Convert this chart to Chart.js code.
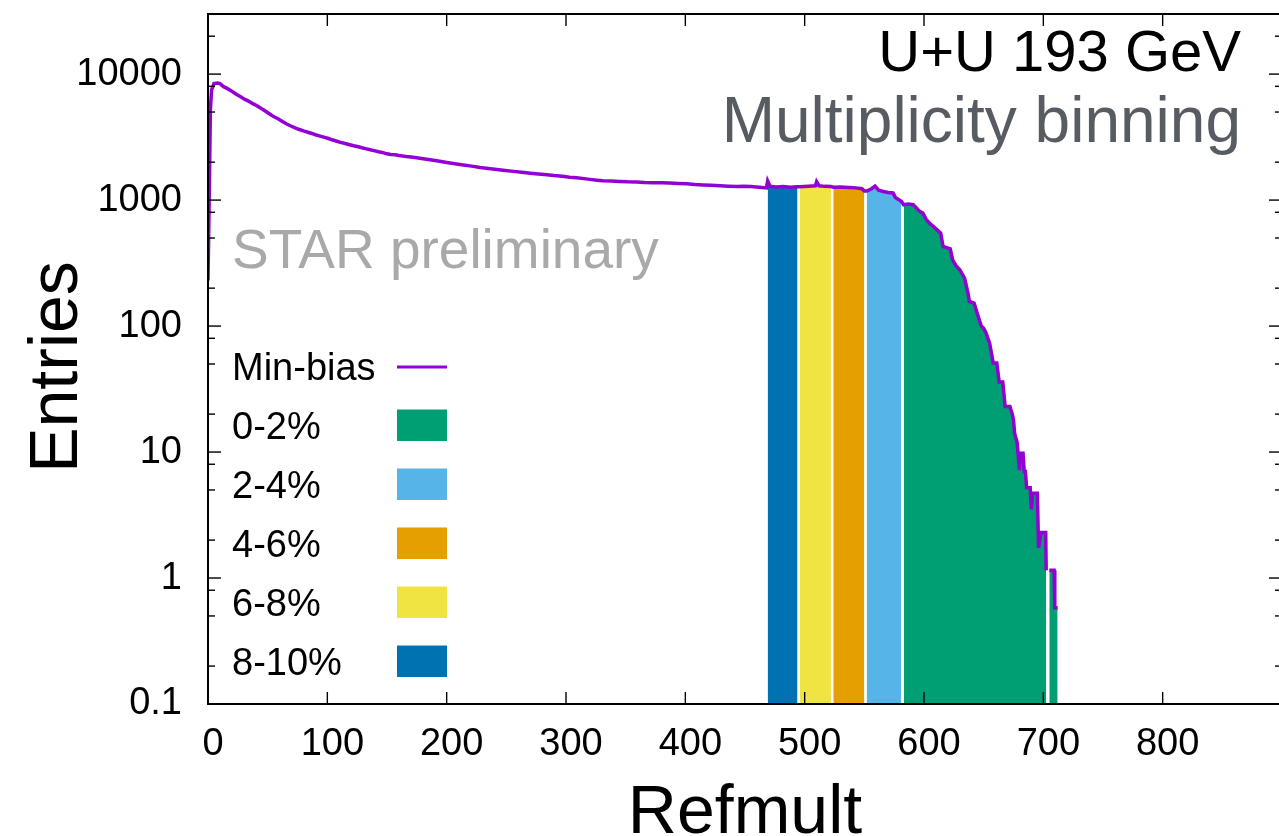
<!DOCTYPE html>
<html>
<head>
<meta charset="utf-8">
<script src="https://cdn.jsdelivr.net/npm/chart.js@4/dist/chart.umd.min.js"></script>
<style>
  html, body { margin: 0; padding: 0; overflow: hidden; background: #fff; }
  canvas { display: block; }
</style>
</head>
<body>
<canvas id="chart" width="1290" height="836"></canvas>
<script>
// Reference multiplicity (Refmult) distribution, U+U at 193 GeV
const refmult = [
  0, 1, 2, 3, 5, 8, 10, 13, 16, 20, 24, 27, 31, 34, 38, 41, 45, 48, 52, 55,
  59, 62, 66, 69, 73, 76, 80, 83, 87, 90, 94, 97, 101, 104, 108, 111, 115, 118, 122, 125,
  129, 132, 136, 139, 143, 146, 150, 153, 157, 160, 166, 172, 179, 186, 193, 200, 207, 214, 221, 228,
  235, 242, 249, 256, 263, 270, 277, 284, 290, 297, 303, 309, 315, 320, 326, 331, 338, 345, 352, 359,
  366, 373, 380, 387, 394, 401, 408, 415, 422, 429, 436, 443, 449, 455, 462, 468, 469, 471, 476, 482,
  488, 494, 496, 503, 509, 510, 512, 517, 522, 524, 530, 537, 543, 548, 550, 552, 556, 559, 562, 566,
  570, 574, 576, 579, 581, 583, 587, 591, 596, 599, 602, 605, 608, 611, 614, 616, 619, 622, 624, 627,
  630, 634, 637, 638, 642, 645, 648, 650, 652, 655, 658, 661, 663, 666, 668, 672, 674, 675, 676, 678,
  680, 681, 683, 684, 685, 686, 689, 690, 691, 695, 696, 698, 702, 702.4, 703, 705, 709, 709.6, 712, 713
];
const entries = [
  230, 1000, 5200, 7500, 8400, 8500, 8400, 7950, 7700, 7300, 6900, 6640, 6300, 6100, 5800, 5600, 5300, 5100, 4800, 4600,
  4400, 4230, 4020, 3890, 3750, 3650, 3540, 3470, 3380, 3300, 3220, 3160, 3080, 3010, 2930, 2870, 2810, 2760, 2700, 2660,
  2600, 2560, 2510, 2470, 2420, 2390, 2330, 2300, 2290, 2260, 2220, 2190, 2140, 2090, 2040, 1990, 1940, 1900, 1860, 1815,
  1780, 1750, 1720, 1690, 1660, 1635, 1610, 1590, 1565, 1545, 1520, 1505, 1480, 1460, 1440, 1425, 1415, 1405, 1395, 1390,
  1380, 1375, 1370, 1365, 1355, 1345, 1330, 1320, 1310, 1300, 1290, 1282, 1285, 1280, 1265, 1250, 1420, 1290, 1270, 1280,
  1265, 1275, 1275, 1290, 1300, 1400, 1300, 1285, 1280, 1265, 1270, 1260, 1250, 1230, 1180, 1180, 1230, 1290, 1200, 1170,
  1150, 1140, 1050, 1005, 980, 918, 930, 920, 820, 790, 700, 650, 617, 580, 547, 428, 420, 410, 336, 300,
  280, 240, 180, 157, 152, 123, 100, 96, 88, 73, 51, 51, 36, 36, 23, 23, 20, 18, 14, 12,
  7.2, 9.8, 9.8, 7, 7, 5.2, 5.2, 3.5, 4.7, 4.7, 1.73, 2.3, 2.3, 1.15, null, 1.15, 1.15, 0.58, 0.58, null
];

// Centrality classes as Refmult ranges
const classLabels = ['0-2%', '2-4%', '4-6%', '6-8%', '8-10%'];
const classLow  = [583, 552, 524, 496, 469];
const classHigh = [712, 581, 550, 522, 494];
const classColors = ['#009E73', '#56B4E9', '#E69F00', '#F0E442', '#0072B2'];

const lineLabel = 'Min-bias';
const lineColor = '#9400D3';

const xTicks = [0, 100, 200, 300, 400, 500, 600, 700, 800];
const xTickMarks = [0, 100, 200, 300, 400, 500, 600, 700, 800, 900];
const yTicks = [0.1, 1, 10, 100, 1000, 10000];
const yTickLabels = ['0.1', '1', '10', '100', '1000', '10000'];
const yMinorMantissas = [2, 5, 8];

const FONT = "'Liberation Sans', Arial, Helvetica, sans-serif";
Chart.defaults.font.family = FONT;
Chart.defaults.color = '#000';

const points = refmult.map((x, i) => ({ x: x, y: entries[i] }));

const classSets = classLabels.map((label, k) => ({
  label: label,
  data: points.filter(p => p.x >= classLow[k] && p.x <= classHigh[k]),
  borderWidth: 0,
  backgroundColor: classColors[k],
  fill: 'start',
  pointRadius: 0,
  tension: 0,
  spanGaps: false,
  order: 1
}));

const decorations = {
  id: 'decorations',
  afterDatasetsDraw(chart) {
    const { ctx, chartArea: a, scales: { x, y } } = chart;
    ctx.save();
    ctx.strokeStyle = '#000';
    ctx.lineWidth = 1.4;
    const seg = (x0, y0, x1, y1) => { ctx.beginPath(); ctx.moveTo(x0, y0); ctx.lineTo(x1, y1); ctx.stroke(); };
    xTickMarks.forEach(v => {
      const px = x.getPixelForValue(v);
      seg(px, a.bottom, px, a.bottom - 12);
      seg(px, a.top, px, a.top + 12);
    });
    yTicks.forEach(v => {
      const py = y.getPixelForValue(v);
      seg(a.left, py, a.left + 13, py);
      seg(a.right, py, a.right - 13, py);
      yMinorMantissas.forEach(m => {
        const mv = v * m;
        if (mv < y.max) {
          const pm = y.getPixelForValue(mv);
          seg(a.left, pm, a.left + 7, pm);
          seg(a.right, pm, a.right - 7, pm);
        }
      });
    });
    ctx.lineWidth = 2;
    ctx.strokeRect(a.left, a.top, a.right - a.left, a.bottom - a.top);
    ctx.restore();
  },
  afterDraw(chart) {
    const { ctx, chartArea: a } = chart;
    ctx.save();
    // axis titles
    ctx.fillStyle = '#000';
    ctx.font = `68px ${FONT}`;
    ctx.textAlign = 'center';
    ctx.textBaseline = 'alphabetic';
    ctx.fillText('Refmult', (a.left + a.right) / 2, 833);
    ctx.save();
    ctx.translate(77, 367);
    ctx.rotate(-Math.PI / 2);
    ctx.fillText('Entries', 0, 0);
    ctx.restore();

    // annotations
    ctx.textAlign = 'right';
    ctx.font = `58px ${FONT}`;
    ctx.fillStyle = '#000';
    ctx.fillText('U+U 193 GeV', 1241, 71);
    ctx.font = `64px ${FONT}`;
    ctx.fillStyle = '#575c62';
    ctx.fillText('Multiplicity binning', 1241, 142);
    ctx.textAlign = 'left';
    ctx.font = `55px ${FONT}`;
    ctx.fillStyle = '#a9a9a9';
    ctx.fillText('STAR preliminary', 232, 268);

    // key
    ctx.font = `38px ${FONT}`;
    ctx.fillStyle = '#000';
    const base0 = 380, step = 59;
    ctx.fillText(lineLabel, 232, base0);
    ctx.strokeStyle = lineColor;
    ctx.lineWidth = 3;
    ctx.beginPath();
    ctx.moveTo(397, base0 - 13);
    ctx.lineTo(447, base0 - 13);
    ctx.stroke();
    classLabels.forEach((label, k) => {
      const b = base0 + step * (k + 1);
      ctx.fillStyle = '#000';
      ctx.fillText(label, 232, b);
      ctx.fillStyle = classColors[k];
      ctx.fillRect(397, b - 29.5, 50, 31.5);
    });
    ctx.restore();
  }
};

new Chart(document.getElementById('chart'), {
  type: 'line',
  data: {
    datasets: [
      {
        label: lineLabel,
        data: points,
        borderColor: lineColor,
        borderWidth: 3.5,
        fill: false,
        pointRadius: 0,
        tension: 0,
        spanGaps: false,
        order: 0
      },
      ...classSets
    ]
  },
  options: {
    responsive: false,
    animation: false,
    devicePixelRatio: 1,
    events: [],
    layout: { padding: { left: 0, right: 8, top: 14, bottom: 0 } },
    plugins: { legend: { display: false }, tooltip: { enabled: false } },
    scales: {
      x: {
        type: 'linear',
        min: 0,
        max: 900,
        grid: { display: false, drawTicks: false },
        border: { display: false },
        afterBuildTicks: s => { s.ticks = xTicks.map(v => ({ value: v })); },
        afterFit: s => { s.height = 132; s.paddingLeft = 0; s.paddingRight = 0; },
        ticks: {
          autoSkip: false,
          maxRotation: 0,
          padding: 18,
          labelOffset: 5,
          font: { size: 38 },
          color: '#000',
          callback: v => String(v)
        }
      },
      y: {
        type: 'logarithmic',
        min: 0.1,
        max: 30000,
        grid: { display: false, drawTicks: false },
        border: { display: false },
        afterBuildTicks: s => { s.ticks = yTicks.map(v => ({ value: v })); },
        afterFit: s => { s.width = 208; s.paddingTop = 0; s.paddingBottom = 0; },
        ticks: {
          autoSkip: false,
          padding: 26,
          font: { size: 38 },
          color: '#000',
          callback: (v, i) => yTickLabels[i]
        }
      }
    }
  },
  plugins: [decorations]
});
</script>
</body>
</html>
